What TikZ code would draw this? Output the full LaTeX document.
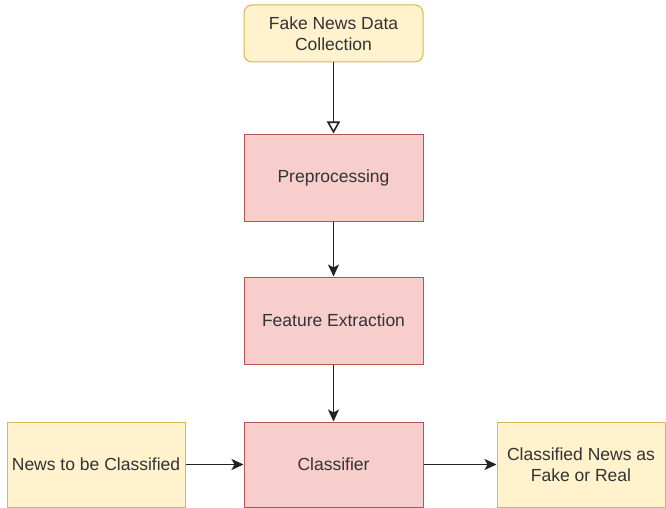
\documentclass[tikz,border=0pt]{standalone}
\usepackage{fontspec}
\setmainfont{Liberation Sans}
\usetikzlibrary{arrows.meta}
\definecolor{yfill}{HTML}{FFF2CC}
\definecolor{ydraw}{HTML}{D6B656}
\definecolor{pfill}{HTML}{F8CECC}
\definecolor{pdraw}{HTML}{B85450}
\definecolor{txt}{HTML}{333333}
\definecolor{lne}{HTML}{222222}
\begin{document}
\begin{tikzpicture}[x=1pt,y=-1pt,
  box/.style={draw, line width=1pt, inner sep=0pt, align=center, text=txt,
    font=\fontsize{17.5}{21}\selectfont},
  ybox/.style={box, fill=yfill, draw=ydraw},
  pbox/.style={box, fill=pfill, draw=pdraw},
  conn/.style={draw=lne, line width=1.6pt, -{Stealth[length=12pt,width=11pt,inset=3pt]}},
  openconn/.style={draw=lne, line width=1.6pt, -{Triangle[open,length=12pt,width=13pt]}}]
\useasboundingbox (0,0) rectangle (666,508);
\node[ybox, rounded corners=8pt, minimum width=179pt, minimum height=57pt] (collect) at (333.5,33.5) {Fake News Data\\Collection};
\node[pbox, minimum width=179pt, minimum height=87pt] (pre) at (333.5,177.5) {Preprocessing};
\node[pbox, minimum width=179pt, minimum height=87pt] (feat) at (333.5,320.5) {Feature Extraction};
\node[pbox, minimum width=179pt, minimum height=85pt] (cls) at (333.5,464.5) {Classifier};
\node[ybox, minimum width=178pt, minimum height=85pt] (news) at (96,464.5) {News to be Classified};
\node[ybox, minimum width=168pt, minimum height=85pt] (out) at (581,464.5) {Classified News as\\Fake or Real};
\draw[openconn] (collect) -- (pre);
\draw[conn] (pre) -- (feat);
\draw[conn] (feat) -- (cls);
\draw[conn] (news) -- (cls);
\draw[conn] (cls) -- (out);
\end{tikzpicture}
\end{document}
